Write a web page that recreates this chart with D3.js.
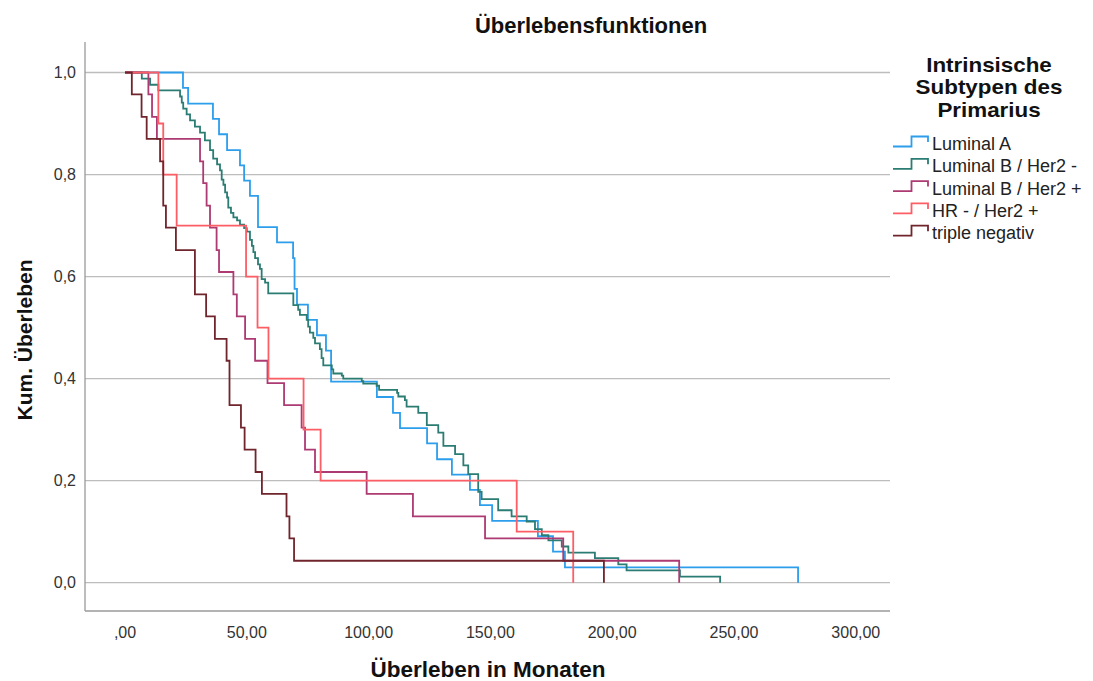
<!DOCTYPE html>
<html>
<head>
<meta charset="utf-8">
<script src="https://cdn.jsdelivr.net/npm/d3@7/dist/d3.min.js"></script>
<style>
  html, body { margin: 0; padding: 0; background: #fff; }
  svg { display: block; }
  text { font-family: "Liberation Sans", Arial, sans-serif; }
</style>
</head>
<body>
<svg id="chart" width="1093" height="681"></svg>
<script>
// Kaplan-Meier step data: event times (months) and cumulative survival after each event
const seriesNames = ["Luminal A", "Luminal B / Her2 -", "Luminal B / Her2 +", "HR - / Her2 +", "triple negativ"];
const seriesColors = ["#2c9eec", "#2b7c73", "#ad3a72", "#fd5d65", "#70252c"];

const lumATime = [23.8, 25.9, 36.1, 38.6, 41.9, 47.2, 48.9, 51.3, 54.6, 62.4, 69.0, 69.6, 70.6, 75.1, 78.8, 82.5, 84.6,
  103.4, 110.0, 112.9, 124.0, 128.1, 134.2, 141.6, 145.7, 150.7, 169.5, 175.7, 180.6, 276.3];
const lumASurv = [0.970, 0.939, 0.909, 0.879, 0.848, 0.818, 0.788, 0.758, 0.697, 0.667, 0.636, 0.576, 0.545, 0.515, 0.485, 0.455, 0.394,
  0.364, 0.333, 0.303, 0.273, 0.242, 0.212, 0.182, 0.152, 0.121, 0.091, 0.061, 0.030, 0];

const lumBnegTime = [6.9, 10.3, 13.7, 22.6, 23.3, 23.9, 25.3, 26.7, 28.7, 30.8, 32.8, 34.9, 36.2, 37.8, 39.0, 39.7, 40.4, 41.1, 41.9,
  42.4, 43.5, 44.5, 46.0, 47.2, 48.9, 50.0, 51.3, 52.1, 52.7, 53.4, 54.6, 55.4, 56.1, 57.5, 58.8, 69.1, 71.1, 71.8, 74.6, 75.2,
  75.9, 77.3, 78.0, 80.0, 80.7, 81.4, 84.9, 85.5, 89.0, 89.6, 97.2, 97.8, 103.3, 104.3, 111.7, 112.2, 114.9, 115.6, 120.4, 123.9,
  128.6, 130.7, 135.5, 138.9, 140.9, 145.0, 146.4, 153.2, 158.7, 164.9, 168.3, 171.1, 173.8, 179.3, 182.0, 192.9, 202.5, 205.9,
  227.8, 244.3];
const lumBnegSurv = [0.988, 0.976, 0.965, 0.953, 0.941, 0.929, 0.918, 0.906, 0.894, 0.882, 0.867, 0.848, 0.831, 0.820, 0.808, 0.790,
  0.780, 0.765, 0.755, 0.735, 0.725, 0.716, 0.710, 0.702, 0.695, 0.688, 0.672, 0.660, 0.648, 0.636, 0.624, 0.615, 0.595, 0.588,
  0.567, 0.544, 0.535, 0.525, 0.515, 0.502, 0.490, 0.480, 0.469, 0.458, 0.440, 0.426, 0.418, 0.410, 0.406, 0.400, 0.395, 0.390,
  0.386, 0.378, 0.372, 0.365, 0.358, 0.345, 0.333, 0.309, 0.294, 0.268, 0.252, 0.230, 0.213, 0.178, 0.164, 0.142, 0.130, 0.120,
  0.105, 0.093, 0.083, 0.071, 0.059, 0.048, 0.036, 0.024, 0.012, 0];

const lumBposTime = [9.6, 11.1, 13.1, 30.8, 32.1, 33.5, 34.9, 37.6, 38.6, 44.5, 45.9, 49.3, 53.4, 58.5, 65.3, 72.5, 73.9, 78.0,
  99.2, 118.2, 147.8, 179.9, 227.5];
const lumBposSurv = [0.957, 0.913, 0.870, 0.826, 0.783, 0.739, 0.696, 0.652, 0.609, 0.565, 0.522, 0.478, 0.435, 0.391, 0.348,
  0.304, 0.261, 0.217, 0.174, 0.130, 0.087, 0.043, 0];

const hrHer2Time = [13.7, 15.7, 21.2, 49.7, 54.4, 58.9, 73.3, 80.3, 160.8, 184.0];
const hrHer2Surv = [0.9, 0.8, 0.7, 0.6, 0.5, 0.4, 0.3, 0.2, 0.1, 0];

const tripleTime = [2.8, 6.8, 8.9, 14.4, 15.7, 16.8, 20.9, 28.7, 33.3, 36.9, 41.7, 42.9, 47.6, 49.1, 53.6, 56.2, 66.3, 67.5, 69.4, 196.6];
const tripleSurv = [0.957, 0.913, 0.870, 0.826, 0.739, 0.696, 0.652, 0.565, 0.522, 0.478, 0.435, 0.348, 0.304, 0.261, 0.217,
  0.174, 0.130, 0.087, 0.043, 0];

const xTicks = [0, 50, 100, 150, 200, 250, 300];
const xTickLabels = [",00", "50,00", "100,00", "150,00", "200,00", "250,00", "300,00"];
const yTicks = [0, 0.2, 0.4, 0.6, 0.8, 1.0];
const yTickLabels = ["0,0", "0,2", "0,4", "0,6", "0,8", "1,0"];

const chartTitle = "Überlebensfunktionen";
const xTitle = "Überleben in Monaten";
const yTitle = "Kum. Überleben";
const legendTitle = ["Intrinsische", "Subtypen des", "Primarius"];

const seriesData = [
  [lumATime, lumASurv],
  [lumBnegTime, lumBnegSurv],
  [lumBposTime, lumBposSurv],
  [hrHer2Time, hrHer2Surv],
  [tripleTime, tripleSurv]
].map(([t, s]) => [[0, 1]].concat(t.map((d, i) => [d, s[i]])));

// layout
const frame = { left: 85, right: 890, top: 42, bottom: 611 };
const x = d3.scaleLinear().domain([0, 300]).range([125, 855.8]);
const y = d3.scaleLinear().domain([0, 1]).range([582.7, 72.5]);

const svg = d3.select("#chart");

// horizontal grid lines
svg.append("g").selectAll("line").data(yTicks).join("line")
  .attr("x1", frame.left).attr("x2", frame.right)
  .attr("y1", d => y(d)).attr("y2", d => y(d))
  .attr("stroke", "#bdbdbd").attr("stroke-width", 1.3);

// axis frame (left and bottom)
svg.append("line").attr("x1", frame.left).attr("x2", frame.left)
  .attr("y1", frame.top).attr("y2", frame.bottom)
  .attr("stroke", "#9a9a9a").attr("stroke-width", 1.3);
svg.append("line").attr("x1", frame.left).attr("x2", frame.right)
  .attr("y1", frame.bottom).attr("y2", frame.bottom)
  .attr("stroke", "#9a9a9a").attr("stroke-width", 1.3);

// tick labels
svg.append("g").selectAll("text").data(yTicks).join("text")
  .attr("x", 76).attr("y", d => y(d) + 5.5)
  .attr("text-anchor", "end").attr("font-size", 16).attr("fill", "#333")
  .text((d, i) => yTickLabels[i]);

svg.append("g").selectAll("text").data(xTicks).join("text")
  .attr("x", d => x(d)).attr("y", 638)
  .attr("text-anchor", "middle").attr("font-size", 16).attr("fill", "#333")
  .text((d, i) => xTickLabels[i]);

// titles
svg.append("text").attr("x", 591).attr("y", 33).attr("text-anchor", "middle")
  .attr("font-size", 22).attr("font-weight", "bold").attr("fill", "#111").text(chartTitle);
svg.append("text").attr("x", 488).attr("y", 677).attr("text-anchor", "middle")
  .attr("font-size", 22.5).attr("font-weight", "bold").attr("fill", "#111").text(xTitle);
svg.append("text").attr("transform", "translate(32,340) rotate(-90)").attr("text-anchor", "middle")
  .attr("font-size", 21).attr("font-weight", "bold").attr("fill", "#111").text(yTitle);

// survival curves
const stepLine = d3.line().x(d => x(d[0])).y(d => y(d[1])).curve(d3.curveStepAfter);
svg.append("g").selectAll("path").data(seriesData).join("path")
  .attr("d", stepLine)
  .attr("fill", "none")
  .attr("stroke", (d, i) => seriesColors[i])
  .attr("stroke-width", 1.8)
  .attr("stroke-linejoin", "miter");

// legend
const legend = svg.append("g");
const legendHead = legend.append("g").attr("transform", "translate(989,0) scale(1.12,1)");
legendHead.selectAll("text").data(legendTitle).join("text")
  .attr("x", 0).attr("y", (d, i) => 72 + i * 22.5)
  .attr("text-anchor", "middle").attr("font-size", 20).attr("font-weight", "bold").attr("fill", "#111")
  .text(d => d);

const items = legend.selectAll("g.item").data(seriesNames).join("g").attr("class", "item")
  .attr("transform", (d, i) => `translate(0,${150 + i * 22.3})`);
items.append("path")
  .attr("d", "M893,-3.5 H911.5 V-13.5 H928 V-8")
  .attr("fill", "none").attr("stroke", (d, i) => seriesColors[i]).attr("stroke-width", 1.8);
items.append("text").attr("x", 932).attr("y", 0)
  .attr("font-size", 18).attr("fill", "#222").text(d => d);
</script>
</body>
</html>
